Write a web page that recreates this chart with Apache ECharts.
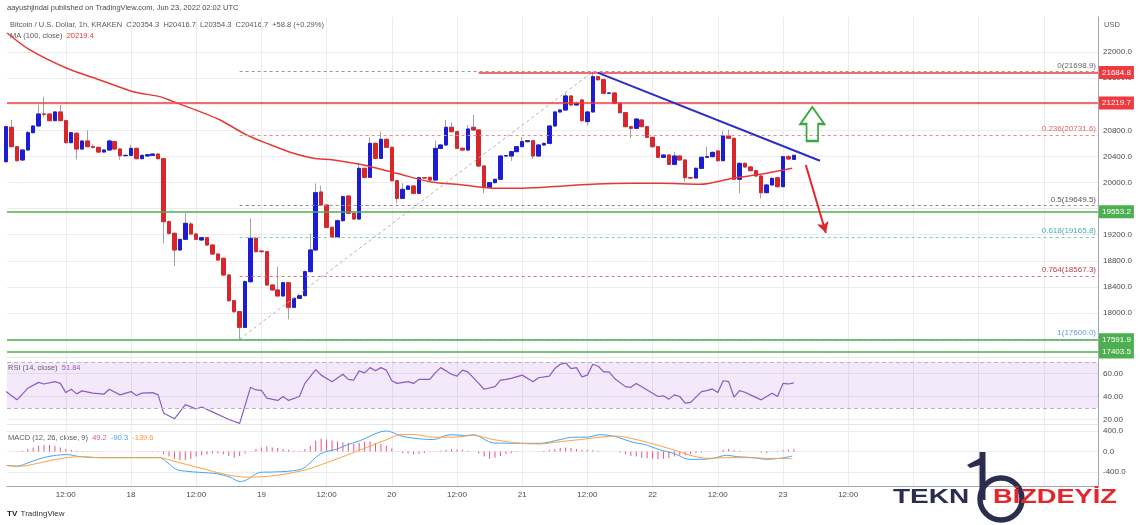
<!DOCTYPE html>
<html>
<head>
<meta charset="utf-8">
<script src="https://cdn.jsdelivr.net/npm/echarts@6/dist/echarts.min.js"></script>
<style>
html,body{margin:0;padding:0;background:#fff;}
#chart{width:1140px;height:525px;}
</style>
</head>
<body>
<div id="chart"></div>
<script>
// Hours are counted from 2022-06-18 00:00 UTC; one candle per hour (BTC/USD 1h, Kraken)
const firstCandleHour = -23;
const opens = [
20319,20846,20549,20345,20498,20764,20866,21050,21050,20948,
21081,20948,20611,20754,20513,20636,20549,20539,20467,20498,
20626,20513,20411,20416,20523,20365,20406,20416,20436,20365,
19400,19221,18966,19129,19364,19211,19119,19155,19042,18904,
18838,18582,18189,18020,17780,18480,19144,18950,18940,18429,
18353,18261,18465,18087,18225,18266,18634,18966,19854,19655,
19313,19160,19415,19793,19528,19440,20217,20079,20600,20370,
20662,20539,20028,19757,19895,19946,19834,20074,20079,20038,
20523,20575,20846,20779,20524,20498,20846,20805,20253,19926,
19998,20049,20406,20406,20473,20549,20626,20641,20406,20575,
20600,20866,21081,21111,21326,21188,21265,20933,21081,21622,
21575,21367,21372,21214,21070,20856,20830,20958,20856,20692,
20549,20386,20421,20278,20406,20345,20074,20069,20217,20386,
20396,20483,20335,20713,20677,20049,20294,20238,20181,20100,
19844,19962,20074,19936,20396,20354.3];
const closes = [
20856,20549,20335,20498,20764,20866,21050,21045,20948,21081,
20948,20611,20764,20513,20636,20549,20539,20467,20498,20636,
20513,20411,20416,20523,20365,20416,20426,20436,20365,19400,
19221,18966,19129,19374,19211,19129,19155,19042,18904,18812,
18582,18189,18020,17780,18480,19144,18940,18940,18429,18353,
18261,18465,18087,18225,18266,18634,18966,19844,19655,19313,
19160,19415,19783,19528,19440,20217,20079,20600,20370,20662,
20539,20028,19757,19895,19946,19834,20074,20069,20038,20523,
20575,20846,20779,20524,20498,20820,20805,20253,19926,19998,
20049,20406,20411,20473,20549,20626,20641,20406,20575,20600,
20866,21081,21111,21326,21188,21214,20948,21081,21622,21575,
21367,21372,21214,21070,20856,20830,20973,20856,20692,20549,
20386,20421,20278,20406,20345,20074,20069,20217,20386,20396,
20462,20335,20713,20677,20049,20294,20238,20181,20100,19844,
19962,20064,19936,20396,20360,20416.7];
const lows = [
20300,20540,20320,20330,20490,20750,20850,21000,20930,20940,
20940,20600,20600,20355,20500,20540,20520,20455,20455,20490,
20500,20350,20400,20405,20355,20355,20400,20410,20355,19068,
19200,18720,18950,19115,19200,19120,19110,19030,18890,18800,
18570,18170,18000,17600,17770,18460,18930,18920,18420,18340,
18250,18250,17903,18080,18215,18255,18620,18950,19640,19300,
19150,19150,19400,19515,19430,19430,20060,20070,20355,20360,
20525,20015,19680,19745,19885,19820,19820,20060,20030,20030,
20510,20560,20770,20510,20480,20480,20790,20240,19834,19915,
19985,20040,20390,20330,20460,20540,20615,20360,20395,20565,
20590,20855,21070,21100,21180,21175,20930,20870,21070,21560,
21355,21355,21200,21060,20845,20680,20820,20845,20680,20535,
20375,20375,20265,20265,20335,20013,20055,20060,20205,20375,
20385,20320,20320,20665,20040,19834,20225,20170,20090,19757,
19835,19950,19925,19925,20350,20354.3];
const highs = [
20870,20960,20560,20510,20790,20880,21188,21316,21060,21090,
21188,20960,20780,20770,20650,20800,20580,20550,20510,20660,
20640,20525,20430,20575,20535,20425,20440,20445,20445,20375,
19420,19235,19140,19528,19400,19230,19170,19165,19055,18915,
18850,18600,18200,18035,18500,19451,19160,18960,18950,18440,
18710,18480,18475,18235,18275,18650,19220,19987,19950,19665,
19325,19430,19800,19800,19540,20300,20230,20692,20615,20779,
20675,20550,20040,19990,19960,19960,20090,20085,20090,20640,
20585,20958,20920,20790,20540,20881,21035,20815,20265,20010,
20060,20420,20420,20485,20560,20692,20650,20652,20590,20610,
20880,21096,21130,21367,21340,21240,21280,21095,21699,21640,
21590,21385,21385,21225,21080,20865,20985,20970,20865,20700,
20560,20430,20430,20470,20415,20355,20085,20230,20398,20550,
20475,20495,20790,20810,20690,20305,20305,20250,20195,20110,
19975,20075,20085,20410,20420,20416.7];

// MA(100, close)
const maPoints = [[-22.8,22291],[-18.6,22031],[-11.8,21750],[-5.7,21571],[0.4,21392],[5.3,21316],[7.8,21239],
[12.7,21086],[16.4,20958],[21.3,20728],[25.0,20600],[29.9,20447],[33.6,20371],[37.3,20345],[42.8,20268],
[48.9,20141],[55.0,20013],[61.1,19962],[67.3,19911],[72.0,19911],[79.5,19947],[85.7,19977],[91.9,19987],
[97.4,19987],[104.7,19972],[110.8,20064],[115.7,20125],[121.7,20219.4]];

// RSI(14)
const rsiHours = [-23,-21,-19,-17,-16,-14,-13,-12,-11,-10,-9,-7,-5,-4,-2,0,1,2,4,5,
6,8,10,12,13,15,18,20,22,23,24,25,27,28,29,31,32,34,35,37,
39,40,41,42,43,44,45,46,47,48,49,51,52,53,55,56,57,59,60,61,
62,64,65,67,68,69,70,72,74,75,77,78,79,80,81,82,83,84,85,86,
87,88,89,91,92,93,95,97,98,99,100,101,102,103,105,106,107,108,109,110,
111,112,113,114,116,117,118,119,120,121,122];
const rsiValues = [44.3,37.1,47.1,52.3,50.9,52.9,51.4,43.4,46.3,42.3,44.9,42.9,42.0,46.3,41.4,44.3,40.9,42.9,43.4,41.4,
25.7,20.6,32.9,29.1,30.9,26.6,20.0,16.6,48.0,45.7,45.4,38.6,36.6,40.0,36.6,40.0,51.4,63.4,58.6,52.9,
59.4,54.9,54.3,62.3,60.6,65.1,62.3,65.1,62.9,53.7,51.4,52.9,51.4,54.9,54.9,60.6,65.1,59.4,57.7,62.9,
61.4,51.4,46.3,48.6,54.3,54.9,55.7,58.6,52.9,56.3,57.7,64.3,68.0,69.1,64.3,65.1,57.1,58.6,68.0,66.3,
61.4,61.4,55.7,48.6,48.0,51.4,45.7,40.0,40.6,37.7,41.4,40.0,34.3,34.9,44.3,45.1,46.6,43.4,53.7,52.9,
39.4,45.1,43.7,41.4,37.1,40.0,42.9,40.0,51.4,50.9,51.84];

// MACD(12,26,9)
const macdPoints = [[-22.9,-273],[-21.0,-287],[-18.6,-207],[-16.1,-120],[-13.7,-73],[-11.8,-60],[-9.4,-100],
[-5.7,-120],[0.4,-120],[5.3,-120],[6.6,-207],[8.4,-353],[10.3,-387],[12.7,-407],[15.8,-433],[18.2,-500],
[20.1,-587],[21.3,-553],[23.8,-407],[26.2,-400],[28.7,-387],[31.1,-353],[32.3,-287],[33.6,-153],[34.8,-53],
[36.0,0],[37.9,47],[39.7,127],[42.2,213],[44.0,300],[45.8,380],[47.1,400],[48.3,367],[49.5,310],[52.0,260],
[55.6,233],[58.7,327],[61.8,313],[63.0,327],[66.7,167],[71.6,160],[75.3,160],[79.0,233],[81.4,280],[83.9,280],
[86.3,327],[88.8,300],[92.4,180],[94.9,127],[97.3,33],[99.8,-33],[102.9,-153],[104.7,-153],[107.2,-133],
[109.6,-73],[111.5,-100],[114.5,-120],[117.0,-153],[119.4,-133],[121.7,-90.3]];
const signalPoints = [[-22.9,-273],[-20.4,-287],[-16.7,-220],[-13.1,-140],[-9.4,-100],[-5.7,-120],[5.3,-120],
[7.8,-187],[12.7,-320],[17.6,-453],[21.3,-500],[25.0,-487],[28.7,-433],[32.3,-353],[36.0,-220],[39.7,-73],
[43.4,80],[47.1,233],[49.5,330],[52.0,333],[55.6,280],[59.3,280],[63.0,313],[66.7,233],[71.6,160],[75.3,147],
[79.0,193],[82.7,233],[86.3,280],[89.4,300],[92.4,247],[96.1,147],[99.8,33],[102.9,-73],[105.9,-133],
[109.6,-120],[113.3,-120],[117.0,-133],[121.7,-139.6]];
const histFirstHour = -22;
const histValues = [
0,5,20,47,80,113,127,127,113,80,
47,33,13,5,5,5,5,0,0,0,
0,0,0,0,5,5,5,-10,-53,-100,
-140,-167,-167,-140,-100,-73,-53,-40,-40,-53,
-87,-120,-87,-40,5,47,80,100,80,67,
47,33,13,13,47,113,213,247,233,213,
193,180,167,147,167,193,193,167,147,113,
60,5,-30,-40,-53,-45,-30,-10,5,13,
33,47,40,33,13,0,-40,-100,-140,-120,
-87,-53,-33,-10,0,0,0,5,13,33,
47,67,80,67,47,33,33,25,13,0,
0,0,-20,-53,-87,-100,-120,-133,-140,-153,
-140,-133,-100,-73,-73,-53,-33,-20,-7,0,
0,33,47,27,13,0,0,0,-20,-33,
-7,13,27,33,49.2];

// levels
const keyLevels = [21684.8, 21219.7, 19553.2, 17591.9, 17403.5];
const fibRatios = ['0','0.236','0.5','0.618','0.764','1'];
const fibPrices = [21698.9, 20731.6, 19649.5, 19165.8, 18567.3, 17600.0];
const lastPrice = 20416.7;
const countdown = '55:41';

// axis ticks
const priceTicks = [17600,18000,18400,18800,19200,19600,20000,20400,20800,21200,21600,22000];
const rsiTicks = [20,40,60];
const macdTicks = [-400,0,400];
const timeTicks = [-12,0,12,24,36,48,60,72,84,96,108,120,132,144,156,168];

const FONT = '"Liberation Sans", Arial, sans-serif';
const xMin = -22.82, xMax = 177.98;

const candleHours = opens.map((_, i) => firstCandleHour + i);
const wickData = candleHours.map((h, i) => [h, opens[i], closes[i], lows[i], highs[i]]);
const bodyData = candleHours.map((h, i) => [h, opens[i], closes[i], Math.min(opens[i], closes[i]), Math.max(opens[i], closes[i])]);
const histData = histValues.map((v, i) => [histFirstHour + i, v]);

const RED = '#ef3a3f', GREEN = '#4caf50';
const keyStyle = [
  {color: RED, start: 64},
  {color: RED, start: null},
  {color: GREEN, start: null},
  {color: GREEN, start: null},
  {color: GREEN, start: null}
];
const fibLine = ['#9a9a9a', '#e88a8a', '#8c8c8c', '#7fc9c2', '#d77a7a', '#8db8e8'];
const fibText = ['#666666', '#e06565', '#555555', '#3fb3a8', '#b8434a', '#5a9be0'];

function boxLabel(text, bg) {
  return {show: true, position: 'end', distance: 1, formatter: text, backgroundColor: bg, color: '#fff',
    padding: [2, 3, 1, 3], fontSize: 8, fontFamily: FONT, lineHeight: 10};
}

const markData = [];
fibPrices.forEach((p, i) => {
  markData.push([
    {coord: [20, p], lineStyle: {color: fibLine[i], type: [3, 3], width: 1},
     label: {show: true, position: 'insideEndTop', distance: 2, formatter: fibRatios[i] + '(' + p.toFixed(1) + ')',
       color: fibText[i], fontSize: 8, fontFamily: FONT}},
    {coord: [xMax, p]}
  ]);
});
markData.push([{coord: [20, 17600], lineStyle: {color: '#b0b0b0', type: [3, 3], width: 1}, label: {show: false}},
               {coord: [85, 21698.9]}]);
keyLevels.forEach((p, i) => {
  const ks = keyStyle[i];
  const lab = boxLabel(p.toFixed(1), ks.color);
  if (ks.start !== null) {
    markData.push([{coord: [ks.start, p], lineStyle: {color: ks.color, width: 1.6, type: 'solid'}, label: lab}, {coord: [xMax, p]}]);
  } else {
    markData.push({yAxis: p, lineStyle: {color: ks.color, width: 1.6, type: 'solid'}, label: lab});
  }
});
markData.push({yAxis: lastPrice, lineStyle: {opacity: 0}, label: boxLabel(lastPrice.toFixed(1) + '\n' + countdown, '#1212e8')});
markData.push([{coord: [85.9, 21683], lineStyle: {color: '#2d2dc8', width: 2, type: 'solid'}, label: {show: false}},
               {coord: [126.8, 20334]}]);
markData.push([{coord: [124.2, 20268], symbol: 'none', lineStyle: {color: '#e3262c', width: 2, type: 'solid'}, label: {show: false}},
               {coord: [127.9, 19226], symbol: 'arrow', symbolSize: [9, 11]}]);

function makeX(i) {
  return {
    type: 'value', gridIndex: i, min: xMin, max: xMax,
    axisLine: {show: true, onZero: false, lineStyle: {color: i === 2 ? '#a3a6af' : '#e6e6e6', width: 1}},
    axisTick: {show: false, customValues: timeTicks},
    axisLabel: {show: i === 2, customValues: timeTicks,
      formatter: v => (v % 24 === 0 ? String(18 + v / 24) : '12:00'),
      color: '#4a4a4a', fontSize: 8, fontFamily: FONT, margin: 5},
    splitLine: {show: true, lineStyle: {color: '#ececec', width: 1}}
  };
}
function makeY(i, min, max, ticks, digits) {
  return {
    type: 'value', gridIndex: i, position: 'right', min: min, max: max,
    axisLine: {show: true, onZero: false, lineStyle: {color: '#a3a6af'}},
    axisTick: {show: false, customValues: ticks},
    axisLabel: {customValues: ticks, formatter: v => v.toFixed(digits), color: '#4a4a4a', fontSize: 8, fontFamily: FONT, margin: 5},
    splitLine: {show: true, lineStyle: {color: '#ececec', width: 1}}
  };
}

const LOGO_Z = 200;
const chart = echarts.init(document.getElementById('chart'));
const option = {
  animation: false,
  backgroundColor: '#ffffff',
  textStyle: {fontFamily: FONT},
  grid: [
    {left: 7, right: 42, top: 17, height: 340, outerBoundsMode: 'none'},
    {left: 7, right: 42, top: 357, height: 67, outerBoundsMode: 'none'},
    {left: 7, right: 42, top: 424, height: 62, outerBoundsMode: 'none'}
  ],
  xAxis: [makeX(0), makeX(1), makeX(2)],
  yAxis: [
    makeY(0, 17325.7, 22536.4, priceTicks, 1),
    makeY(1, 16.09, 74.35, rsiTicks, 2),
    makeY(2, -673.2, 536.6, macdTicks, 1)
  ],
  series: [
    {
      name: 'wicks', type: 'candlestick', xAxisIndex: 0, yAxisIndex: 0, barWidth: 4,
      data: wickData, encode: {x: 0, y: [1, 2, 3, 4]},
      itemStyle: {color: 'rgba(0,0,0,0)', color0: 'rgba(0,0,0,0)', borderColor: '#a2a2a2', borderColor0: '#a2a2a2', borderWidth: 1}
    },
    {
      name: 'bodies', type: 'candlestick', xAxisIndex: 0, yAxisIndex: 0, barWidth: 4,
      data: bodyData, encode: {x: 0, y: [1, 2, 3, 4]},
      itemStyle: {color: '#1c1cd4', color0: '#d7262c', borderColor: '#1c1cd4', borderColor0: '#d7262c', borderWidth: 1}
    },
    {
      name: 'MA', type: 'line', xAxisIndex: 0, yAxisIndex: 0, data: maPoints, showSymbol: false, smooth: 0.3, z: 4,
      lineStyle: {color: '#e53935', width: 1.5},
      markLine: {silent: true, symbol: ['none', 'none'], animation: false, data: markData},
      markPoint: {
        silent: true, animation: false,
        data: [{coord: [125.4, 20897], symbol: 'path://M12.5,0 L25,17 L18.5,17 L18.5,34 L6.5,34 L6.5,17 L0,17 Z',
          symbolSize: [24, 34], itemStyle: {color: 'rgba(0,0,0,0)', borderColor: '#3aa840', borderWidth: 2}, label: {show: false}}]
      }
    },
    {
      name: 'RSI', type: 'line', xAxisIndex: 1, yAxisIndex: 1, showSymbol: false,
      data: rsiHours.map((h, i) => [h, rsiValues[i]]),
      lineStyle: {color: '#8a5cc0', width: 1.2}, z: 4,
      markArea: {silent: true, itemStyle: {color: 'rgba(178,102,230,0.15)'}, data: [[{yAxis: 30}, {yAxis: 70}]]},
      markLine: {silent: true, symbol: ['none', 'none'], label: {show: false},
        lineStyle: {color: '#b9b3c8', type: [4, 3], width: 1}, data: [{yAxis: 70}, {yAxis: 30}]}
    },
    {
      name: 'Histogram', type: 'bar', xAxisIndex: 2, yAxisIndex: 2, barWidth: 1,
      data: histData, itemStyle: {color: '#e8557f'}
    },
    {
      name: 'MACD', type: 'line', xAxisIndex: 2, yAxisIndex: 2, showSymbol: false, smooth: 0.3,
      data: macdPoints, lineStyle: {color: '#42a5f5', width: 1}
    },
    {
      name: 'Signal', type: 'line', xAxisIndex: 2, yAxisIndex: 2, showSymbol: false, smooth: 0.3,
      data: signalPoints, lineStyle: {color: '#ffa040', width: 1}
    }
  ],
  graphic: [
    {type: 'text', left: 7, top: 4, silent: true,
     style: {text: 'aayushjindal published on TradingView.com, Jun 23, 2022 02:02 UTC', fill: '#4a4a4a', fontSize: 7.5, fontFamily: FONT}},
    {type: 'text', left: 10, top: 21, silent: true,
     style: {text: 'Bitcoin / U.S. Dollar, 1h, KRAKEN  O20354.3  H20416.7  L20354.3  C20416.7  +58.8 (+0.29%)', fill: '#5a5a5a', fontSize: 7.5, fontFamily: FONT}},
    {type: 'text', left: 10, top: 32, silent: true,
     style: {text: '{a|MA (100, close)}  {b|20219.4}', fontSize: 7.5, fontFamily: FONT,
       rich: {a: {fill: '#5a5a5a', fontSize: 7.5, fontFamily: FONT}, b: {fill: '#e53935', fontSize: 7.5, fontFamily: FONT}}}},
    {type: 'text', left: 1104, top: 21, silent: true,
     style: {text: 'USD', fill: '#5a5a5a', fontSize: 7.5, fontFamily: FONT}},
    {type: 'text', left: 8, top: 364, silent: true,
     style: {text: '{a|RSI (14, close)}  {b|51.84}', fontSize: 7.5, fontFamily: FONT,
       rich: {a: {fill: '#5a5a5a', fontSize: 7.5, fontFamily: FONT}, b: {fill: '#8a5cc0', fontSize: 7.5, fontFamily: FONT}}}},
    {type: 'text', left: 8, top: 434, silent: true,
     style: {text: '{a|MACD (12, 26, close, 9)}  {h|49.2}  {m|-90.3}  {s|-139.6}', fontSize: 7.5, fontFamily: FONT,
       rich: {a: {fill: '#5a5a5a', fontSize: 7.5, fontFamily: FONT}, h: {fill: '#e8557f', fontSize: 7.5, fontFamily: FONT},
              m: {fill: '#42a5f5', fontSize: 7.5, fontFamily: FONT}, s: {fill: '#ff9430', fontSize: 7.5, fontFamily: FONT}}}},
    {type: 'text', left: 7, top: 508, silent: true,
     style: {text: '{i|TV} {t|TradingView}', fontFamily: FONT,
       rich: {i: {fill: '#131722', fontSize: 8, fontWeight: 'bold', fontFamily: FONT}, t: {fill: '#333', fontSize: 8, fontFamily: FONT}}}},
    // watermark logo
    {type: 'rect', silent: true, z: LOGO_Z, shape: {x: 885, y: 488, width: 255, height: 37}, style: {fill: '#ffffff'}},
    {type: 'circle', silent: true, z: LOGO_Z + 1, shape: {cx: 1001, cy: 499, r: 21}, style: {fill: 'none', stroke: '#2a2d4e', lineWidth: 5.5}},
    {type: 'rect', silent: true, z: LOGO_Z + 1, shape: {x: 979.5, y: 452, width: 6, height: 48}, style: {fill: '#2a2d4e'}},
    {type: 'polygon', silent: true, z: LOGO_Z + 1, shape: {points: [[967, 465], [980, 458], [980, 465], [970, 468]]}, style: {fill: '#2a2d4e'}},
    {type: 'text', silent: true, z: LOGO_Z + 2, x: 893, y: 487, scaleX: 1.4,
     style: {text: 'TEKN', fill: '#2a2d4e', fontSize: 20, fontWeight: 'bold', fontFamily: FONT}},
    {type: 'text', silent: true, z: LOGO_Z + 2, x: 993, y: 487, scaleX: 1.36,
     style: {text: 'BİZDEYİZ', fill: '#e3262b', fontSize: 20, fontWeight: 'bold', fontFamily: FONT}}
  ]
};
chart.setOption(option);
</script>
</body>
</html>
